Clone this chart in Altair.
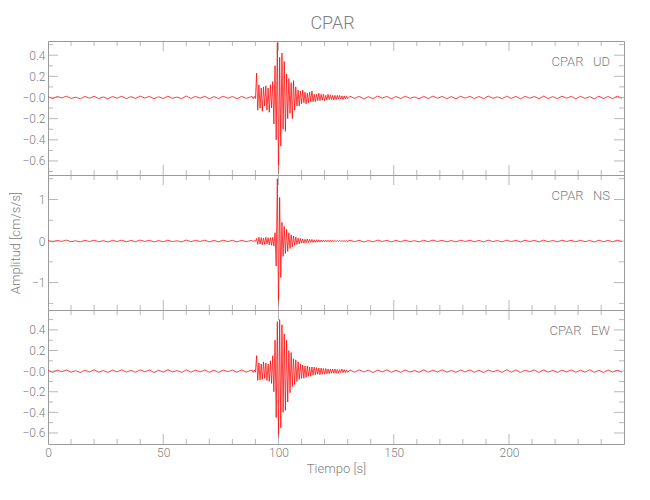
import altair as alt
import pandas as pd

# ---------------- data ----------------
STATION = "CPAR"
LABELS = ["CPAR\u00a0\u00a0\u00a0UD", "CPAR\u00a0\u00a0\u00a0NS", "CPAR\u00a0\u00a0\u00a0EW"]

# quiet part before the event: t = 0, 2, ..., 88 s
UD_Q1 = [0.006, -0.011, 0.009, -0.004, 0.012, -0.009, 0.003, -0.012, 0.01, -0.007,
         0.011, -0.01, 0.005, -0.013, 0.009, -0.006, 0.012, -0.011, 0.008, -0.009,
         0.013, -0.005, 0.01, -0.012, 0.007, -0.01, 0.012, -0.008, 0.004, -0.011,
         0.014, -0.009, 0.01, -0.006, 0.012, -0.012, 0.008, -0.01, 0.011, -0.007,
         0.009, -0.012, 0.01, -0.008, 0.006]
NS_Q1 = [0.012, -0.02, 0.015, -0.008, 0.022, -0.016, 0.006, -0.021, 0.018, -0.012,
         0.02, -0.017, 0.009, -0.022, 0.016, -0.011, 0.021, -0.019, 0.014, -0.016,
         0.023, -0.009, 0.018, -0.021, 0.012, -0.018, 0.021, -0.014, 0.007, -0.02,
         0.024, -0.016, 0.018, -0.011, 0.021, -0.021, 0.014, -0.018, 0.02, -0.012,
         0.016, -0.021, 0.018, -0.014, 0.011]
EW_Q1 = [0.007, -0.012, 0.01, -0.005, 0.011, -0.01, 0.004, -0.013, 0.009, -0.008,
         0.012, -0.009, 0.006, -0.012, 0.01, -0.007, 0.013, -0.01, 0.007, -0.011,
         0.012, -0.006, 0.011, -0.013, 0.008, -0.009, 0.013, -0.007, 0.005, -0.012,
         0.013, -0.01, 0.009, -0.007, 0.011, -0.011, 0.009, -0.012, 0.01, -0.006,
         0.01, -0.011, 0.012, -0.009, 0.007]

# event: t = 88.5, 89.0, ..., 130.0 s
UD_EV = [0.01, -0.012, 0.01, -0.01, 0.23, -0.12, 0.12, -0.10,
         0.09, -0.13, 0.10, -0.08, 0.11, -0.12, 0.09, -0.14,
         0.12, -0.10, 0.15, -0.25, 0.30, -0.40, 0.52, -0.72,
         0.38, -0.46, 0.42, -0.30, 0.34, -0.32, 0.22, -0.20,
         0.18, -0.15, 0.14, -0.20, 0.16, -0.12, 0.10, -0.08,
         0.07, -0.08, 0.06, -0.06, 0.07, -0.05, 0.05, -0.06,
         0.04, -0.05, 0.05, -0.04, 0.06, -0.04, 0.03, -0.04,
         0.03, -0.03, 0.04, -0.03, 0.03, -0.025, 0.03, -0.03,
         0.02, -0.025, 0.03, -0.02, 0.025, -0.02, 0.02, -0.025,
         0.02, -0.02, 0.02, -0.015, 0.02, -0.015, 0.015, -0.02,
         0.015, -0.015, 0.015, -0.012]
NS_EV = [0.01, -0.01, 0.012, -0.01, 0.06, -0.08, 0.09, -0.07,
         0.08, -0.09, 0.07, -0.08, 0.09, -0.07, 0.08, -0.09,
         0.08, -0.10, 0.09, -0.12, 0.20, -0.60, 1.50, -1.55,
         1.05, -0.88, 0.45, -0.37, 0.35, -0.30, 0.28, -0.25,
         0.20, -0.18, 0.15, -0.14, 0.12, -0.10, 0.10, -0.08,
         0.07, -0.07, 0.06, -0.05, 0.05, -0.05, 0.04, -0.04,
         0.05, -0.04, 0.04, -0.03, 0.04, -0.035, 0.03, -0.03,
         0.03, -0.025, 0.03, -0.025, 0.025, -0.02, 0.025, -0.02,
         0.02, -0.02, 0.02, -0.02, 0.02, -0.015, 0.02, -0.015,
         0.015, -0.015, 0.015, -0.015, 0.015, -0.012, 0.015, -0.012,
         0.012, -0.012, 0.012, -0.01]
EW_EV = [0.01, -0.012, 0.01, -0.01, 0.15, -0.09, 0.08, -0.085,
         0.07, -0.08, 0.09, -0.07, 0.08, -0.09, 0.07, -0.10,
         0.10, -0.12, 0.15, -0.20, 0.30, -0.45, 0.48, -0.65,
         0.50, -0.55, 0.45, -0.40, 0.36, -0.38, 0.30, -0.30,
         0.20, -0.21, 0.18, -0.15, 0.12, -0.13, 0.11, -0.10,
         0.09, -0.08, 0.07, -0.07, 0.06, -0.07, 0.05, -0.06,
         0.05, -0.05, 0.04, -0.05, 0.04, -0.04, 0.04, -0.035,
         0.035, -0.03, 0.03, -0.035, 0.03, -0.03, 0.025, -0.03,
         0.025, -0.025, 0.02, -0.025, 0.02, -0.02, 0.02, -0.02,
         0.02, -0.02, 0.015, -0.02, 0.015, -0.015, 0.02, -0.015,
         0.015, -0.015, 0.012, -0.012]

# quiet part after the event: t = 131, 133, ..., 249 s
UD_Q2 = [0.012, -0.009, 0.01, -0.013, 0.007, -0.011, 0.013, -0.006, 0.01, -0.012,
         0.009, -0.01, 0.012, -0.008, 0.005, -0.012, 0.011, -0.009, 0.013, -0.007,
         0.01, -0.011, 0.008, -0.013, 0.012, -0.006, 0.011, -0.01, 0.009, -0.012,
         0.013, -0.008, 0.006, -0.011, 0.012, -0.009, 0.01, -0.013, 0.011, -0.007,
         0.009, -0.012, 0.013, -0.01, 0.008, -0.011, 0.012, -0.006, 0.01, -0.012,
         0.011, -0.009, 0.007, -0.013, 0.012, -0.01, 0.009, -0.011, 0.013, -0.008]
NS_Q2 = [0.02, -0.016, 0.018, -0.022, 0.012, -0.019, 0.022, -0.011, 0.017, -0.021,
         0.015, -0.018, 0.021, -0.013, 0.009, -0.02, 0.019, -0.015, 0.022, -0.012,
         0.017, -0.019, 0.014, -0.022, 0.02, -0.01, 0.019, -0.017, 0.015, -0.021,
         0.022, -0.014, 0.011, -0.019, 0.021, -0.015, 0.017, -0.022, 0.019, -0.012,
         0.016, -0.02, 0.022, -0.017, 0.013, -0.019, 0.021, -0.011, 0.017, -0.02,
         0.019, -0.015, 0.012, -0.022, 0.02, -0.017, 0.015, -0.019, 0.022, -0.014]
EW_Q2 = [0.011, -0.01, 0.012, -0.008, 0.009, -0.013, 0.01, -0.007, 0.012, -0.011,
         0.008, -0.012, 0.011, -0.009, 0.006, -0.011, 0.013, -0.01, 0.009, -0.008,
         0.012, -0.01, 0.007, -0.012, 0.011, -0.008, 0.012, -0.011, 0.009, -0.013,
         0.01, -0.007, 0.008, -0.012, 0.013, -0.01, 0.011, -0.012, 0.009, -0.006,
         0.011, -0.013, 0.012, -0.009, 0.007, -0.012, 0.01, -0.008, 0.012, -0.011,
         0.009, -0.01, 0.013, -0.011, 0.008, -0.012, 0.011, -0.009, 0.01, -0.011]

X_DOMAIN = [0, 249.9]
X_LABELS = [0, 50, 100, 150, 200]
X_MAJOR = [0, 50, 100, 150, 200]
X_MINOR = [10, 20, 30, 40, 60, 70, 80, 90, 110, 120, 130, 140, 160, 170, 180, 190, 210, 220, 230, 240]

UD_DOMAIN = [-0.733, 0.534]
NS_DOMAIN = [-1.66, 1.59]
EW_DOMAIN = [-0.707, 0.593]
UD_MAJOR = [0.4, 0.2, 0.0, -0.2, -0.4, -0.6]
UD_MINOR = [0.5, 0.3, 0.1, -0.1, -0.3, -0.5, -0.7]
NS_MAJOR = [1, 0, -1]
NS_MINOR = [1.5, 0.5, -0.5, -1.5]
EW_MAJOR = [0.4, 0.2, 0.0, -0.2, -0.4, -0.6]
EW_MINOR = [0.5, 0.3, 0.1, -0.1, -0.3, -0.5]

# ---------------- style ----------------
FONT = "Roboto"
FW = 300
AX = "#9a9a9a"
TXT = "#808080"
RED = "#ff0000"
W = 576
HEIGHTS = [134, 135, 134]
MAJ_LEN = 20   # centred on the frame and clipped -> 10 px inward
MIN_LEN = 10   # -> 5 px inward


def series(q1, ev, q2):
    t = [2 * i for i in range(len(q1))] + [88.5 + 0.5 * i for i in range(len(ev))] + \
        [131 + 2 * i for i in range(len(q2))]
    return pd.DataFrame({"t": t, "a": q1 + ev + q2})


def tick_df(major, minor):
    return pd.DataFrame({"v": major + minor,
                         "sz": [MAJ_LEN] * len(major) + [MIN_LEN] * len(minor)})


def panel(df, label, ydom, ymaj, ymin, label_expr, h, bottom=False, ytitle=None):
    xs = alt.Scale(domain=X_DOMAIN, nice=False, zero=False)
    ys = alt.Scale(domain=ydom, nice=False, zero=False)
    if bottom:
        xaxis = alt.Axis(values=X_LABELS, ticks=False, tickSize=0, domain=False, grid=False,
                         labelPadding=3, labelFlush=False, labelOverlap=False,
                         title="Tiempo [s]", titlePadding=4)
    else:
        xaxis = None
    yaxis_kw = dict(values=ymaj, ticks=False, tickSize=0, domain=False, grid=False,
                    labelPadding=3, labelExpr=label_expr, labelOverlap=False, labelFlush=False)
    if ytitle:
        yaxis = alt.Axis(title=ytitle, titleX=-26, titleY=h / 2, **yaxis_kw)
    else:
        yaxis = alt.Axis(title=None, **yaxis_kw)

    line = alt.Chart(df).mark_line(color=RED, strokeWidth=0.75, clip=True).encode(
        x=alt.X("t:Q", scale=xs, axis=xaxis),
        y=alt.Y("a:Q", scale=ys, axis=yaxis),
    )
    xt = tick_df(X_MAJOR, X_MINOR)
    yt = tick_df(ymaj, ymin)
    size = alt.Size("sz:Q", scale=None, legend=None)
    xt_bot = alt.Chart(xt).mark_tick(color=AX, thickness=1, clip=True).encode(
        x=alt.X("v:Q", scale=xs, axis=xaxis), y=alt.value(h), size=size)
    xt_top = alt.Chart(xt).mark_tick(color=AX, thickness=1, clip=True).encode(
        x=alt.X("v:Q", scale=xs, axis=xaxis), y=alt.value(0), size=size)
    yt_l = alt.Chart(yt).mark_tick(color=AX, thickness=1, clip=True).encode(
        y=alt.Y("v:Q", scale=ys, axis=yaxis), x=alt.value(0), size=size)
    yt_r = alt.Chart(yt).mark_tick(color=AX, thickness=1, clip=True).encode(
        y=alt.Y("v:Q", scale=ys, axis=yaxis), x=alt.value(W), size=size)
    txt = alt.Chart(pd.DataFrame({"lab": [label]})).mark_text(
        align="right", baseline="top", font=FONT, fontWeight=FW, fontSize=13, color=TXT).encode(
        x=alt.value(W - 14), y=alt.value(15), text="lab:N")
    return alt.layer(line, xt_bot, xt_top, yt_l, yt_r, txt).properties(width=W, height=h)


FMT1 = "datum.value == 0 ? '\u22120.0' : format(datum.value, '.1f')"
FMT0 = "format(datum.value, 'd')"

p1 = panel(series(UD_Q1, UD_EV, UD_Q2), LABELS[0], UD_DOMAIN, UD_MAJOR, UD_MINOR, FMT1, HEIGHTS[0])
p2 = panel(series(NS_Q1, NS_EV, NS_Q2), LABELS[1], NS_DOMAIN, NS_MAJOR, NS_MINOR, FMT0, HEIGHTS[1],
           ytitle="Amplitud [cm/s/s]")
p3 = panel(series(EW_Q1, EW_EV, EW_Q2), LABELS[2], EW_DOMAIN, EW_MAJOR, EW_MINOR, FMT1, HEIGHTS[2],
           bottom=True)

chart = alt.vconcat(p1, p2, p3, spacing=0, bounds="flush").properties(
    title=alt.Title(STATION, fontSize=18, font=FONT, color=TXT, fontWeight=FW,
                    anchor="middle", dx=16, offset=8),
    padding={"left": 0, "top": 6, "right": 5, "bottom": 5},
).configure_view(stroke=AX, strokeWidth=1).configure_axis(
    labelFont=FONT, labelColor=TXT, labelFontSize=12, labelFontWeight=FW,
    titleFont=FONT, titleColor=TXT, titleFontSize=13, titleFontWeight=FW,
)

chart.save("out.html", embed_options={"renderer": "svg", "actions": False})
